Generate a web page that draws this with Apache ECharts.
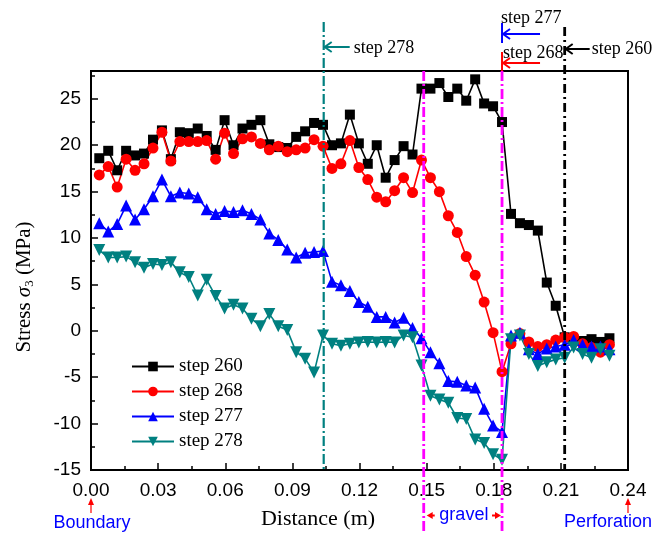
<!DOCTYPE html>
<html>
<head>
<meta charset="utf-8">
<script src="https://cdn.jsdelivr.net/npm/echarts@6/dist/echarts.min.js"></script>
<style>
  html, body { margin: 0; padding: 0; background: #fff; }
  #chart { width: 655px; height: 534px; }
</style>
</head>
<body>
<div id="chart"></div>
<script>
// distance along the sample (m)
var dist = [0.0037, 0.0077, 0.0117, 0.0157, 0.0197, 0.0237, 0.0277, 0.0317, 0.0357, 0.0397,
  0.0437, 0.0477, 0.0517, 0.0557, 0.0597, 0.0637, 0.0677, 0.0717, 0.0757, 0.0797,
  0.0837, 0.0877, 0.0917, 0.0957, 0.0997, 0.1037, 0.1077, 0.1117, 0.1157, 0.1197,
  0.1237, 0.1277, 0.1317, 0.1357, 0.1397, 0.1437, 0.1477, 0.1517, 0.1557, 0.1597,
  0.1637, 0.1677, 0.1717, 0.1757, 0.1797, 0.1837, 0.1877, 0.1917, 0.1957, 0.1997,
  0.2037, 0.2077, 0.2117, 0.2157, 0.2197, 0.2237, 0.2277, 0.2317];

var step260 = [18.6, 19.4, 17.3, 19.4, 18.9, 19.1, 20.6, 21.6, 18.5, 21.4,
  21.3, 21.8, 21.0, 19.5, 22.7, 20.0, 21.8, 22.2, 22.7, 20.1,
  19.8, 19.7, 20.9, 21.5, 22.4, 22.2, 20.0, 20.2, 23.3, 20.2,
  18.0, 20.0, 16.5, 18.4, 19.9, 19.0, 26.1, 26.1, 26.7, 25.2,
  26.1, 24.8, 27.1, 24.5, 24.2, 22.5, 12.6, 11.6, 11.4, 10.8,
  5.2, 2.7, -0.7, -1.0, -1.1, -0.9, -1.2, -0.8];

var step268 = [16.8, 17.7, 15.5, 18.5, 17.3, 18.0, 19.7, 21.4, 18.3, 20.4,
  20.4, 20.4, 20.5, 18.5, 21.3, 19.1, 20.7, 20.9, 20.2, 19.5,
  19.9, 19.3, 19.5, 19.7, 20.6, 19.9, 17.5, 18.0, 20.5, 17.6,
  16.3, 14.4, 13.9, 15.1, 16.5, 14.9, 18.4, 16.5, 15.0, 12.4,
  10.6, 8.0, 6.0, 3.1, -0.2, -4.4, -1.4, -0.3, -1.2, -1.7,
  -1.5, -1.0, -0.7, -0.6, -1.4, -1.8, -2.3, -1.5];

var step277 = [11.6, 10.7, 11.5, 13.5, 12.0, 13.1, 14.5, 16.3, 14.5, 14.9,
  14.8, 14.4, 13.1, 12.6, 12.9, 12.8, 13.0, 12.6, 12.0, 10.5,
  9.8, 8.75, 7.9, 8.4, 8.5, 8.6, 5.3, 4.9, 4.3, 3.1,
  2.6, 1.5, 1.5, 0.9, 1.4, 0.3, -0.8, -2.3, -3.5, -5.4,
  -5.5, -5.9, -6.1, -8.4, -10.2, -10.9, -0.5, -0.2, -2.0, -2.5,
  -1.9, -1.7, -1.5, -1.0, -1.5, -1.7, -1.7, -2.0];

var step278 = [8.7, 7.9, 7.9, 8.0, 7.4, 6.8, 7.2, 7.1, 7.4, 6.3,
  5.8, 3.8, 5.5, 3.75, 2.4, 2.8, 2.4, 1.3, 0.5, 1.8,
  0.5, 0.1, -2.3, -3.0, -4.5, -0.5, -1.4, -1.6, -1.4, -1.25,
  -1.2, -1.25, -1.2, -1.25, -0.5, -0.7, -3.75, -7.0, -7.4, -7.75,
  -9.4, -9.5, -11.7, -12.1, -13.3, -13.9, -0.9, -0.5, -2.5, -3.8,
  -3.4, -3.1, -2.9, -1.8, -2.5, -2.9, -2.0, -2.7];

// positions of the marked steps and the gravel zone (m)
var stepNames = ['step 278', 'step 268', 'step 260'];
var stepAt = [0.104, 0.1837, 0.2117];
var gravelZone = [0.1487, 0.1837];

var serif = '"Liberation Serif", "Times New Roman", serif';
var sans = '"Liberation Sans", Arial, sans-serif';
var teal = '#008080';

var chart = echarts.init(document.getElementById('chart'));

function pts(vals) {
  return dist.map(function (d, i) { return [d, vals[i]]; });
}

function line(name, vals, color, symbol, size, rot) {
  return {
    name: name,
    type: 'line',
    data: pts(vals),
    symbol: symbol,
    symbolSize: size,
    symbolRotate: rot || 0,
    itemStyle: { color: color },
    lineStyle: { color: color, width: 1.6 },
    emphasis: { disabled: true }
  };
}

var option = {
  animation: false,
  grid: {
    left: 91, right: 27, top: 71, bottom: 64,
    show: true, borderColor: '#000', borderWidth: 2
  },
  legend: {
    orient: 'vertical',
    left: 126, top: 352,
    itemWidth: 42, itemHeight: 12, itemGap: 6,
    textStyle: { fontFamily: serif, fontSize: 19, color: '#000' },
    data: ['step 260', 'step 268', 'step 277', 'step 278']
  },
  xAxis: {
    type: 'value', min: 0, max: 0.24, interval: 0.03,
    axisLine: { onZero: false, lineStyle: { color: '#000', width: 2 } },
    axisTick: { inside: true, length: 7, lineStyle: { color: '#000', width: 1.5 } },
    minorTick: { show: true, splitNumber: 2, length: 4, lineStyle: { color: '#000', width: 1.5 } },
    axisLabel: {
      formatter: function (v) { return v.toFixed(2); },
      fontFamily: sans, fontSize: 19, color: '#000', margin: 11
    },
    splitLine: { show: false }
  },
  yAxis: [{
    type: 'value', min: -15, max: 28, interval: 5,
    axisLine: { show: true, onZero: false, lineStyle: { color: '#000', width: 2 } },
    axisTick: { inside: true, length: 7, lineStyle: { color: '#000', width: 1.5 } },
    axisLabel: {
      formatter: function (v) { return v % 5 === 0 ? String(v) : ''; },
      fontFamily: sans, fontSize: 19, color: '#000', margin: 10
    },
    splitLine: { show: false },
    name: 'Stress {s|σ}{b|3} (MPa)',
    nameLocation: 'middle', nameGap: 55,
    nameTextStyle: {
      fontFamily: serif, fontSize: 21, color: '#000',
      padding: [0, 33, 0, 0],
      rich: {
        s: { fontFamily: serif, fontSize: 21, fontStyle: 'italic', color: '#000' },
        b: { fontFamily: serif, fontSize: 13, color: '#000', padding: [10, 0, 0, 0] }
      }
    }
  }, {
    // minor ticks only
    type: 'value', min: -15, max: 28, interval: 2.5, position: 'left',
    axisLine: { show: false, onZero: false },
    axisTick: { inside: true, length: 4, lineStyle: { color: '#000', width: 1.5 } },
    axisLabel: { show: false },
    splitLine: { show: false }
  }],
  series: [
    line('step 260', step260, '#000000', 'rect', 10),
    line('step 268', step268, '#ff0000', 'circle', 11),
    line('step 277', step277, '#0000ff', 'triangle', 12),
    line('step 278', step278, teal, 'triangle', 12, 180)
  ]
};

chart.setOption(option);

// annotations placed from the axis scale
var X = function (v) { return chart.convertToPixel({ xAxisIndex: 0 }, v); };
var yTop = chart.convertToPixel({ yAxisIndex: 0 }, 28);
var yBot = chart.convertToPixel({ yAxisIndex: 0 }, -15);

function vline(x, y1, y2, color, w, dash) {
  return { type: 'line', z: 100, shape: { x1: x, y1: y1, x2: x, y2: y2 },
    style: { stroke: color, lineWidth: w, lineDash: dash || null } };
}
function arrowLeft(x1, x2, y, color) {
  return { type: 'group', z: 100, children: [
    { type: 'line', shape: { x1: x1, y1: y, x2: x2, y2: y }, style: { stroke: color, lineWidth: 2 } },
    { type: 'polyline', shape: { points: [[x2 + 7, y - 5], [x2, y], [x2 + 7, y + 5]] },
      style: { stroke: color, lineWidth: 2, fill: null } }
  ] };
}
function text(t, x, y, color, font, size, align) {
  return { type: 'text', z: 100, x: x, y: y,
    style: { text: t, fill: color, fontFamily: font, fontSize: size,
      align: align || 'left', verticalAlign: 'middle' } };
}
function tri(points, color) {
  return { type: 'polygon', z: 100, shape: { points: points }, style: { fill: color } };
}

var x278 = X(stepAt[0]), x268 = X(stepAt[1]), x260 = X(stepAt[2]);
var g1 = X(gravelZone[0]), g2 = X(gravelZone[1]);
var x0 = X(0), x24 = X(0.24);
var dd = [10, 3, 2, 3];

var graphic = [
  vline(x278, 22, yBot, teal, 2.2, dd),
  vline(g1, yTop, 532, '#ff00ff', 2.8, dd),
  vline(g2, yTop, 532, '#ff00ff', 2.8, dd),
  vline(x260, 27, yBot, '#000', 2.8, [9, 4, 2, 4]),
  vline(g2, 23, 43, '#0000ff', 2),
  vline(g2, 52, yTop, '#ff0000', 2),
  arrowLeft(x278 + 26, x278 + 1, 47, teal),
  text(stepNames[0], x278 + 30, 48, '#000', serif, 18),
  arrowLeft(g2 + 38, g2 + 1, 34, '#0000ff'),
  text('step 277', g2 - 1, 18, '#000', serif, 18),
  arrowLeft(g2 + 38, g2 + 1, 63, '#ff0000'),
  text(stepNames[1], g2 + 1, 53, '#000', serif, 18),
  arrowLeft(x260 + 25, x260 + 1, 49, '#000'),
  text(stepNames[2], x260 + 27, 49, '#000', serif, 18),
  text('Distance (m)', 318, 519, '#000', serif, 22, 'center'),
  // boundary / perforation arrows
  vline(x0, 504, 513, '#ff0000', 1.2),
  tri([[x0 - 3, 505], [x0, 498], [x0 + 3, 505]], '#ff0000'),
  text('Boundary', x0 + 1, 523, '#0000ff', sans, 18, 'center'),
  vline(x24, 504, 513, '#ff0000', 1.2),
  tri([[x24 - 3, 505], [x24, 498], [x24 + 3, 505]], '#ff0000'),
  text('Perforation', x24 - 20, 522, '#0000ff', sans, 18, 'center'),
  // gravel zone
  tri([[g1 + 3, 515.5], [g1 + 9, 512], [g1 + 9, 519]], '#ff0000'),
  { type: 'line', z: 100, shape: { x1: g1 + 8, y1: 515.5, x2: g1 + 11, y2: 515.5 }, style: { stroke: '#ff0000', lineWidth: 2 } },
  tri([[g2 - 1, 515.5], [g2 - 7, 512], [g2 - 7, 519]], '#ff0000'),
  { type: 'line', z: 100, shape: { x1: g2 - 10, y1: 515.5, x2: g2 - 6, y2: 515.5 }, style: { stroke: '#ff0000', lineWidth: 2 } },
  text('gravel', (g1 + g2) / 2 + 1, 515, '#0000ff', sans, 18, 'center')
];

chart.setOption({ graphic: graphic });
</script>
</body>
</html>
